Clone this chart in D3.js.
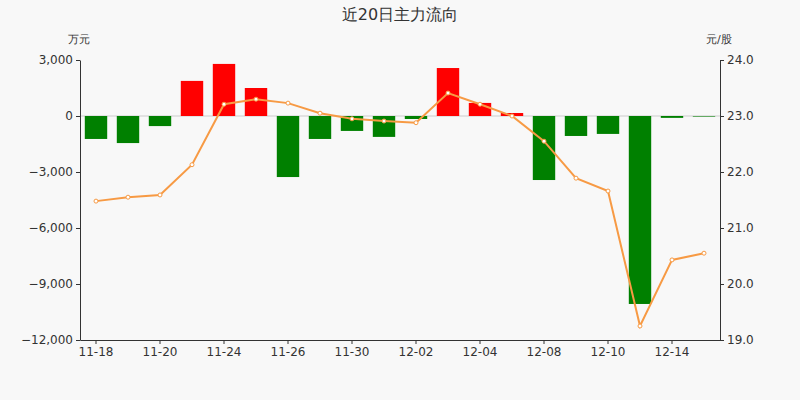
<!DOCTYPE html>
<html><head><meta charset="utf-8">
<script src="https://cdn.jsdelivr.net/npm/d3@7"></script>
<style>body{margin:0;background:#f8f8f8}svg{font-family:"DejaVu Sans",sans-serif}</style>
</head><body><svg width="800" height="400"></svg>
<script>
const dates=["11-18","11-19","11-20","11-21","11-24","11-25","11-26","11-27","11-30","12-01","12-02","12-03","12-04","12-07","12-08","12-09","12-10","12-11","12-14","12-15"];
const flows=[-1230,-1450,-540,1880,2790,1500,-3270,-1230,-800,-1120,-160,2570,700,160,-3430,-1070,-960,-10070,-100,-30];
const prices=[21.48,21.55,21.59,22.13,23.21,23.30,23.23,23.05,22.95,22.91,22.88,23.41,23.21,23.0,22.55,21.89,21.66,19.25,20.43,20.55];
const leftTicks=[3000,0,-3000,-6000,-9000,-12000];
const rightTicks=[24,23,22,21,20,19];
const svg=d3.select("svg");
svg.append("rect").attr("width",800).attr("height",400).attr("fill","#f8f8f8");
const L=80,R=720,T=60,B=340;
const x=d3.scaleBand().domain(dates).range([L,R]).paddingInner(0.3).paddingOuter(0.15);
const xc=d=>x(d)+x.bandwidth()/2;
const y=d3.scaleLinear().domain([-12000,3000]).range([B,T]);
const y2=d3.scaleLinear().domain([19,24]).range([B,T]);
svg.append("text").attr("x",400).attr("y",20).attr("text-anchor","middle").attr("font-size",16).attr("fill","#333").text("近20日主力流向");
svg.append("text").attr("x",68).attr("y",43).attr("font-size",11).attr("fill","#333").text("万元");
svg.append("text").attr("x",706).attr("y",43).attr("font-size",11).attr("fill","#333").text("元/股");
svg.append("line").attr("x1",L).attr("x2",R).attr("y1",y(0)).attr("y2",y(0)).attr("stroke","#ccc");
svg.selectAll(".b").data(flows).join("rect")
 .attr("x",(d,i)=>x(dates[i])).attr("width",x.bandwidth())
 .attr("y",d=>y(Math.max(0,d))).attr("height",d=>Math.abs(y(d)-y(0)))
 .attr("fill",d=>d>=0?"#ff0000":"#008000");
const ax=g=>{g.selectAll(".domain").attr("stroke","#333");g.selectAll("line").attr("stroke","#333");g.selectAll("text").attr("fill","#333").attr("font-size",12).attr("font-family","DejaVu Sans")};
svg.append("g").attr("transform",`translate(${L},0)`).call(d3.axisLeft(y).tickValues(leftTicks).tickFormat(d3.format(",")).tickSize(4).tickSizeOuter(0)).call(ax);
svg.append("g").attr("transform",`translate(${R},0)`).call(d3.axisRight(y2).tickValues(rightTicks).tickSize(4).tickSizeOuter(0)).call(ax);
svg.append("g").attr("transform",`translate(0,${B})`).call(d3.axisBottom(x).tickValues(dates.filter((d,i)=>i%2==0)).tickSize(4).tickSizeOuter(0)).call(ax);
svg.append("path").datum(prices).attr("fill","none").attr("stroke","#f79a44").attr("stroke-width",2)
 .attr("d",d3.line().x((d,i)=>xc(dates[i])).y(d=>y2(d)));
svg.selectAll(".p").data(prices).join("circle").attr("cx",(d,i)=>xc(dates[i])).attr("cy",d=>y2(d)).attr("r",2)
 .attr("fill","#fff").attr("stroke","#f79a44");
</script></body></html>
